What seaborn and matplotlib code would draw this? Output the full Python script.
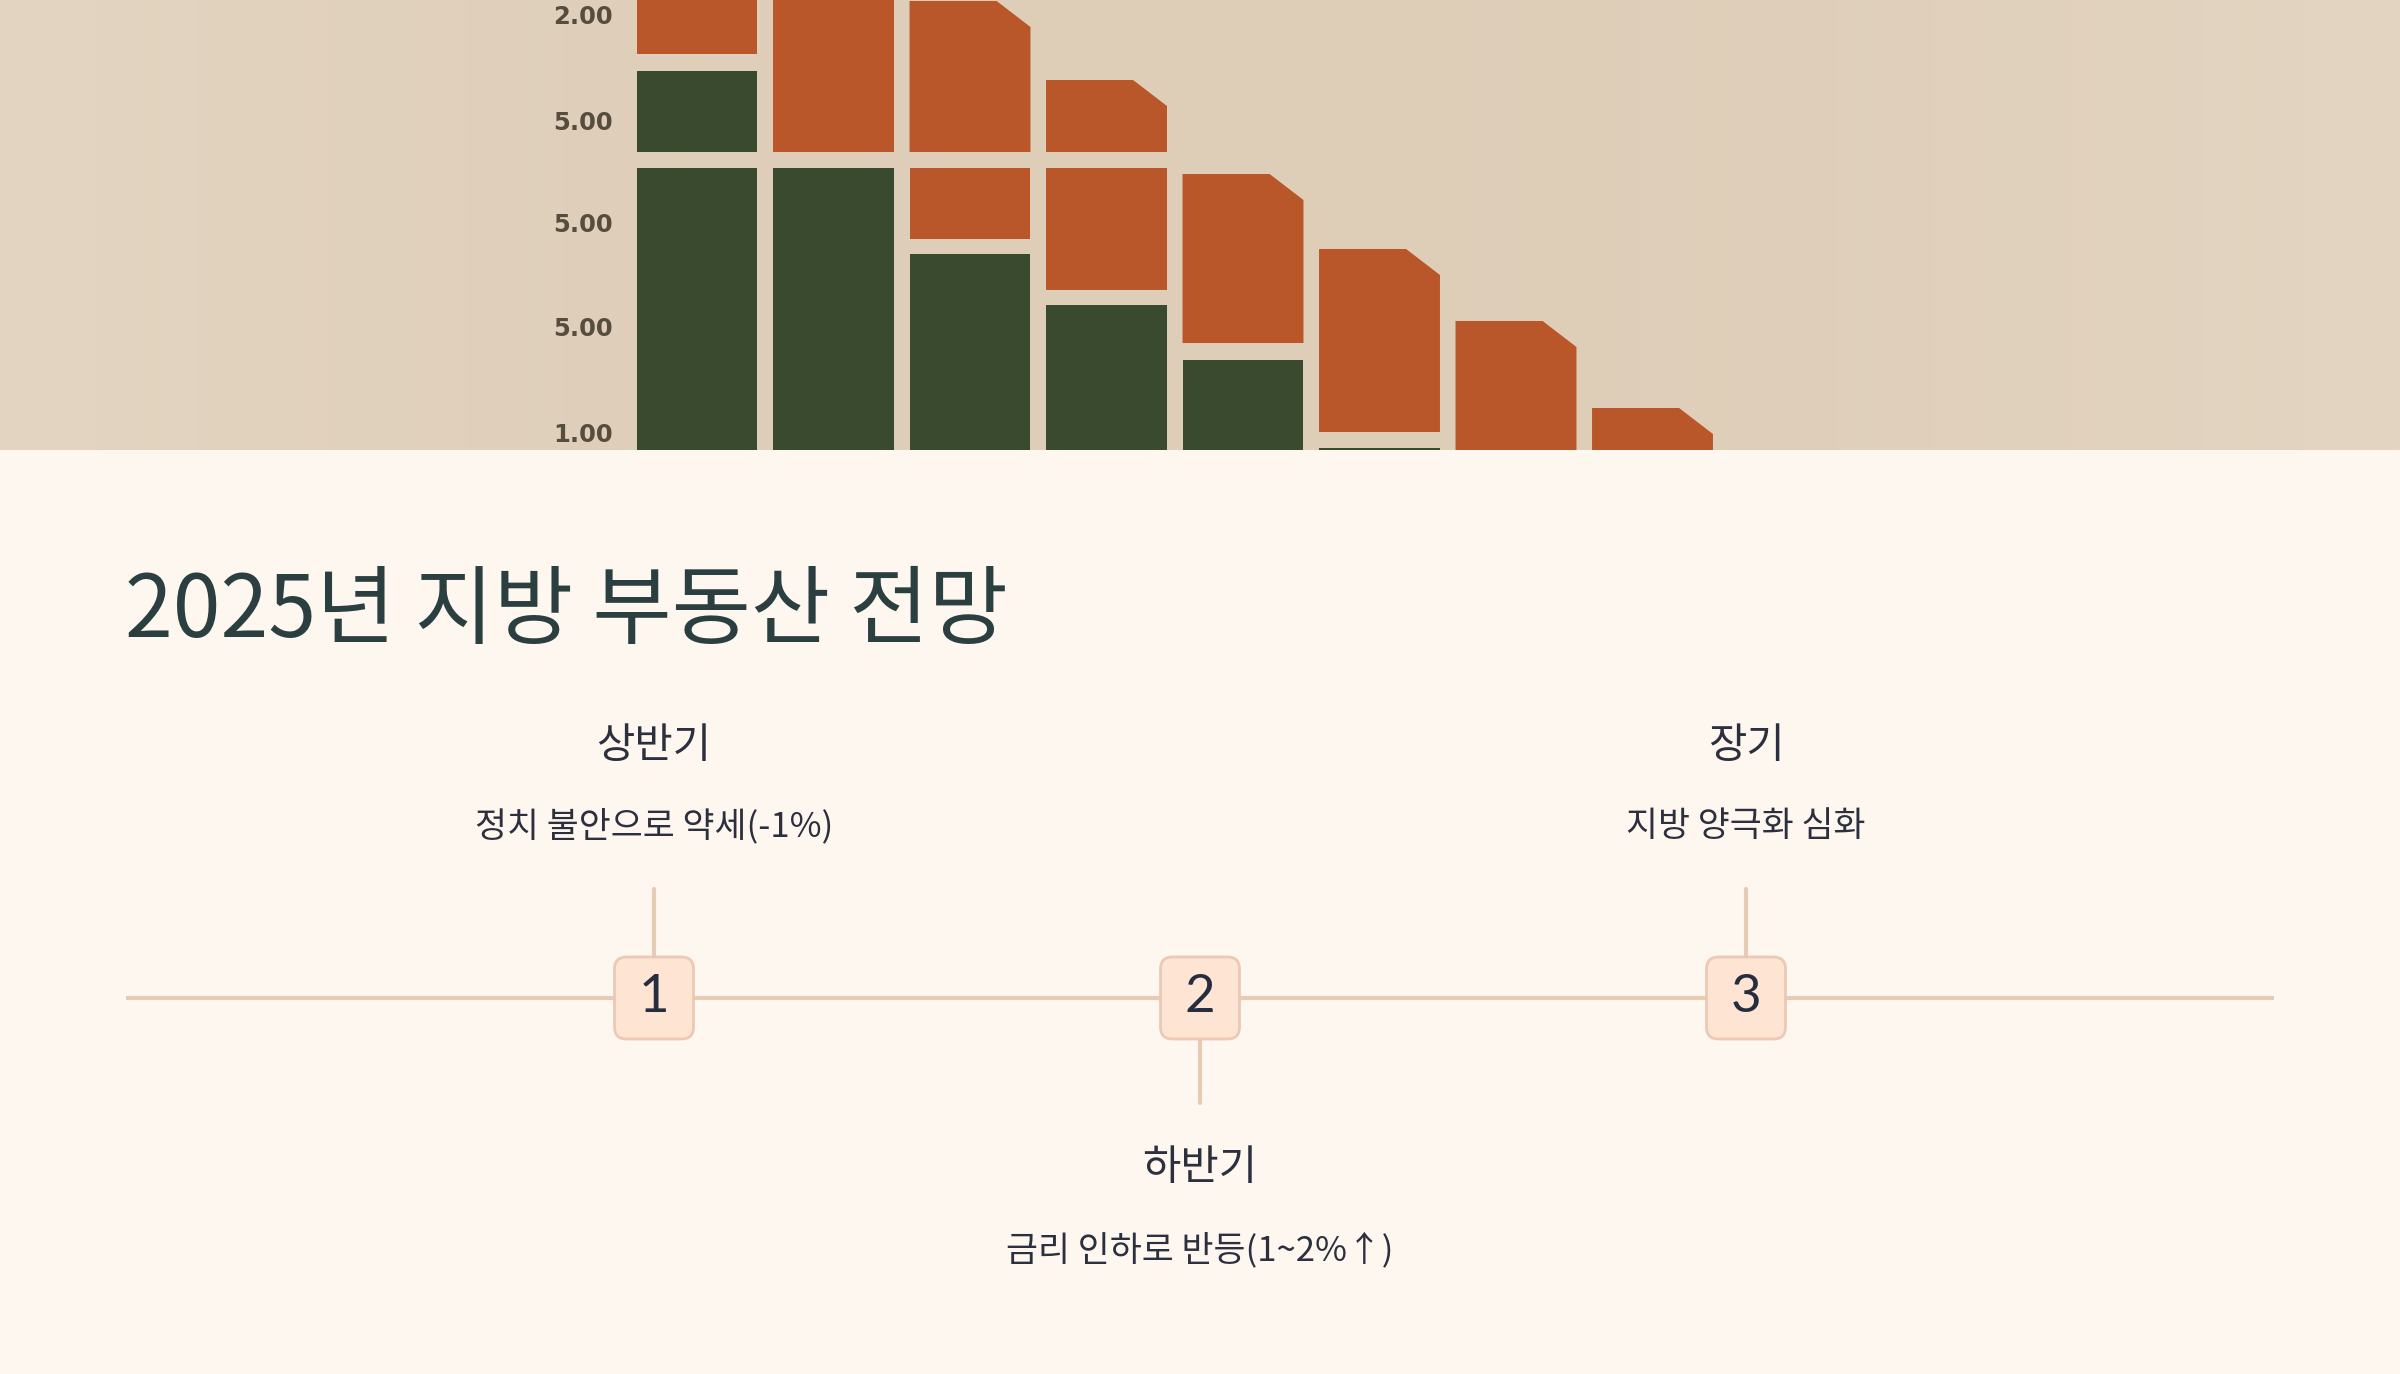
import numpy as np
import pandas as pd
import matplotlib.pyplot as plt
from matplotlib.patches import Polygon, FancyBboxPatch
import seaborn as sns

# Datos de la franja superior: barras apiladas (alturas en décimas de píxel sobre el borde inferior)
bar_names = ['1', '2', '3', '4', '5', '6', '7', '8']
seg_bar = [0, 0, 0, 1, 1, 2, 2, 2, 3, 3, 3, 4, 4, 5, 5, 6, 7]
seg_low = [-5, 29.8, 39.6, -5, 29.8, -5, 21.1, 29.8, -5, 16.0, 29.8, -5, 10.7, -5, 1.8, -5, -5]
seg_high = [28.2, 37.9, 50, 28.2, 50, 19.6, 28.2, 44.9, 14.5, 28.2, 37.0, 9.0, 27.6, 0.2, 20.1, 12.9, 4.2]
seg_kind = ['g', 'g', 'o', 'g', 'o', 'g', 'o', 'o', 'g', 'o', 'o', 'g', 'o', 'g', 'o', 'o', 'o']
seg_cut = [0, 0, 0, 0, 0, 0, 0, 1, 0, 0, 1, 0, 1, 0, 1, 1, 1]
ytick_pos = [1.8, 12.3, 22.7, 33.0, 43.5]
ytick_labels = ['1.00', '5.00', '5.00', '5.00', '2.00']

# Datos de la línea de tiempo
title = '2025년 지방 부동산 전망'
stage_nums = ['1', '2', '3']
stage_titles = ['상반기', '하반기', '장기']
stage_descs = ['정치 불안으로 약세(-1%)', '금리 인하로 반등(1~2%↑)', '지방 양극화 심화']
stage_side = [1, -1, 1]

sns.set_theme(style='white')
plt.rcParams['font.family'] = ['Noto Sans CJK KR', 'DejaVu Sans']

W, H = 2400, 1374
BAND = 450
CREAM = '#fdf7f0'
GREEN = '#3a4a2f'
ORANGE = '#b9572a'
TAN = '#e6cbb6'
INK = '#2c2f3d'

fig = plt.figure(figsize=(W / 100, H / 100), dpi=100)
fig.patch.set_facecolor(CREAM)

# fondo de la franja con un degradado suave
bg = fig.add_axes([0, 1 - BAND / H, 1, BAND / H])
t = np.abs(np.linspace(-1, 1, 2400)) ** 1.6
edge = np.array([227, 213, 194]) / 255
mid = np.array([222, 205, 183]) / 255
grad = (mid[None, :] * (1 - t[:, None]) + edge[None, :] * t[:, None])[None, :, :]
bg.imshow(grad, aspect='auto', extent=(0, 1, 0, 1), interpolation='bilinear')
bg.set_axis_off()

# barras apiladas
left_px = 625
unit_px = 136.5
first_center = 697
ax = fig.add_axes([left_px / W, 1 - BAND / H, 1 - left_px / W, BAND / H])
ax.set_facecolor('none')

df = pd.DataFrame({'bar': seg_bar, 'low': seg_low, 'high': seg_high,
                   'kind': seg_kind, 'cut': seg_cut})
df['layer'] = df.groupby('bar').cumcount()
df['height'] = df['high'] - df['low']
colors = {'g': GREEN, 'o': ORANGE}

for layer, part in df.groupby('layer'):
    n0 = len(ax.patches)
    sns.barplot(x=[bar_names[b] for b in part['bar']], y=part['height'].to_numpy(),
                order=bar_names, width=0.886, color=GREEN, saturation=1,
                errorbar=None, ax=ax)
    for p in list(ax.patches[n0:]):
        b = int(round(p.get_x() + p.get_width() / 2))
        row = part[part['bar'] == b].iloc[0]
        p.set_y(row['low'])
        p.set_facecolor(colors[row['kind']])
        p.set_edgecolor('none')
        if row['cut']:
            x, y, w, h = p.get_x(), p.get_y(), p.get_width(), p.get_height()
            ch, cv = 0.28 * w, 2.6
            ax.add_patch(Polygon([(x, y), (x + w, y), (x + w, y + h - cv),
                                  (x + w - ch, y + h), (x, y + h)],
                                 closed=True, facecolor=colors[row['kind']],
                                 edgecolor='none'))
            p.remove()

x0 = (left_px - first_center) / unit_px
ax.set_xlim(x0, x0 + (W - left_px) / unit_px)
ax.set_ylim(0, 45)
ax.set_xticks([])
ax.set_xlabel('')
ax.set_yticks(ytick_pos, ytick_labels)
ax.tick_params(axis='y', length=0, pad=9, labelsize=17.5, labelcolor='#574d3e')
for lbl in ax.get_yticklabels():
    lbl.set_fontfamily('DejaVu Sans')
    lbl.set_fontweight('bold')
for s in ax.spines.values():
    s.set_visible(False)

# título
fig.text(125 / W, 1 - 637 / H, title, fontsize=62, color='#2b3f40',
         ha='left', va='baseline', fontweight='medium')

# línea de tiempo
tl = fig.add_axes([0, 0, 1, (H - BAND) / H])
tl.set_facecolor('none')
u = 546.0
line_y = 998
tl.set_xlim(2 - (W / 2) / u, 2 + (W / 2) / u)
tl.set_ylim(-(H - line_y) / u, (line_y - BAND) / u)
tl.set_axis_off()

half_len = 1074 / u
tl.plot([2 - half_len, 2 + half_len], [0, 0], color=TAN, lw=3, zorder=1,
        solid_capstyle='butt')

bw, bh, r = 79 / u, 82 / u, 12 / u
for i, (num, ttl, desc, side) in enumerate(zip(stage_nums, stage_titles, stage_descs, stage_side)):
    cx = i + 1
    stem = 0.2 if side > 0 else 0.192
    tl.plot([cx, cx], [0, side * stem], color=TAN, lw=3, zorder=1)
    box = FancyBboxPatch((cx - bw / 2 + r, -bh / 2 + r), bw - 2 * r, bh - 2 * r,
                         boxstyle=f'round,pad={r}', facecolor='#fde4d3',
                         edgecolor='#ebc9b3', lw=2, zorder=2)
    tl.add_patch(box)
    tl.text(cx, 0, num, fontsize=38, color='#272d40', ha='center', va='center',
            family=['Lato', 'DejaVu Sans'], zorder=3)
    if side > 0:
        ty, dy = 0.461, 0.315
    else:
        ty, dy = -0.312, -0.462
    tl.text(cx, ty, ttl, fontsize=30, color=INK, ha='center', va='center')
    tl.text(cx, dy, desc, fontsize=25, color=INK, ha='center', va='center')

plt.savefig('out.png', dpi=100, facecolor=fig.get_facecolor())
plt.close()
